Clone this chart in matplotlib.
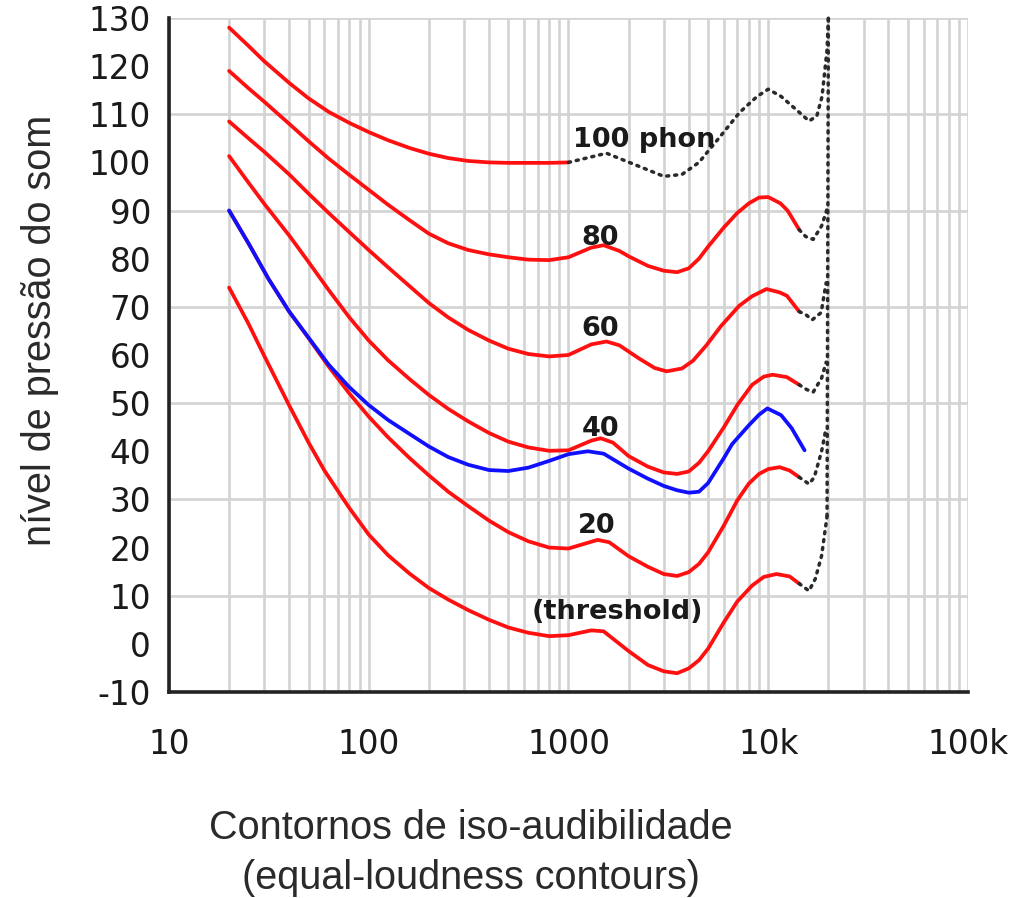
import matplotlib.pyplot as plt
from matplotlib.ticker import LogLocator, NullFormatter

plt.rcParams['axes.unicode_minus'] = False

# equal-loudness contours, red solid part (frequency Hz, level dB)
f_100 = [20, 25, 30, 40, 50, 63, 80, 100, 125, 160, 200, 250, 315, 400, 500, 630, 800, 1000]
l_100 = [128, 124.2, 121, 116.5, 113.3, 110.5, 108.2, 106.3, 104.6, 103, 101.8, 100.9, 100.3, 100, 99.9, 99.9, 99.9, 100]

f_80 = [20, 25, 30, 40, 50, 63, 80, 100, 125, 160, 200, 250, 315, 400, 500, 630, 800, 1000,
        1300, 1500, 1800, 2000, 2500, 3000, 3500, 4000, 4500, 5000, 6000, 7000, 8000, 9000, 10000, 11500, 12500, 14300]
l_80 = [119, 115.4, 112.6, 108, 104.4, 100.8, 97.4, 94.3, 91.2, 88, 85.2, 83.2, 81.8, 80.9, 80.3, 79.8, 79.7, 80.3,
        82.3, 82.8, 81.6, 80.5, 78.5, 77.5, 77.2, 78, 80, 82.5, 86.5, 89.5, 91.5, 92.7, 92.8, 91.5, 90, 86]

f_60 = [20, 25, 30, 40, 50, 63, 80, 100, 125, 160, 200, 250, 315, 400, 500, 630, 800, 1000,
        1300, 1550, 1800, 2250, 2700, 3100, 3700, 4200, 4900, 5800, 7150, 8300, 9800, 11400, 12400, 14300]
l_60 = [108.5, 105, 102.2, 97.5, 93.5, 89.5, 85.5, 81.8, 78.2, 74.3, 70.8, 67.8, 65.2, 63, 61.3, 60.2, 59.7, 60,
        62.2, 62.8, 62, 59.3, 57.3, 56.6, 57.2, 58.8, 62, 66, 70.2, 72.2, 73.7, 73, 72.3, 69]

f_40 = [20, 25, 30, 40, 50, 63, 80, 100, 125, 160, 200, 250, 315, 400, 500, 630, 800, 1000,
        1300, 1450, 1670, 2000, 2500, 3000, 3500, 4000, 4500, 5000, 6000, 7000, 8300, 9500, 10500, 12400, 14300]
l_40 = [101.3, 95.8, 91.4, 84.8, 79.3, 73.5, 67.8, 63, 58.9, 55, 51.7, 48.8, 46.2, 43.8, 42, 40.8, 40.1, 40.2,
        42.2, 42.7, 41.8, 39, 36.8, 35.6, 35.3, 35.8, 37.6, 40, 45, 49.6, 53.8, 55.5, 55.9, 55.4, 53.8]

f_20 = [20, 25, 31.5, 40, 50, 63, 80, 100, 125, 160, 200, 250, 315, 400, 500, 630, 800, 1000,
        1400, 1600, 2000, 2500, 3000, 3500, 4000, 4500, 5000, 6000, 7000, 8000, 9000, 10000, 11400, 12800, 14300]
l_20 = [90, 83.2, 75.8, 69, 63.5, 57.6, 52, 47.2, 42.9, 38.6, 35, 31.6, 28.6, 25.6, 23.2, 21.3, 20, 19.8,
        21.6, 21.1, 18.2, 16, 14.5, 14.1, 14.9, 16.6, 19, 24.6, 29.8, 33.3, 35.3, 36.3, 36.7, 36, 34.6]

f_th = [20, 25, 30, 40, 50, 60, 70, 80, 90, 100, 125, 160, 200, 250, 315, 400, 500, 630, 800, 1000,
        1300, 1500, 2000, 2500, 3000, 3500, 4000, 4500, 5000, 6000, 7000, 8300, 9500, 11000, 12800, 14300]
l_th = [74, 66.5, 59.8, 49.5, 41.8, 36, 31.8, 28.2, 25.3, 22.7, 18.4, 14.6, 11.6, 9.2, 7, 5, 3.4, 2.3, 1.6, 1.8,
        2.8, 2.6, -1.5, -4.4, -5.7, -6.1, -5.1, -3.4, -1, 4.5, 8.8, 12.1, 13.9, 14.5, 14, 12.5]

# original ISO 40 phon (blue)
f_blue = [20, 25, 31.5, 40, 50, 63, 80, 100, 125, 160, 200, 250, 315, 400, 500, 630, 800, 1000, 1250, 1500,
          2000, 2500, 3000, 3500, 4000, 4500, 5000, 6000, 6600, 8000, 9000, 9900, 11600, 13100, 15200]
l_blue = [90, 83.2, 75.8, 69, 63.6, 58, 53.3, 49.6, 46.5, 43.6, 41, 38.8, 37.2, 36.1, 35.9, 36.6, 38, 39.4, 40, 39.5,
          36.4, 34.3, 32.8, 31.9, 31.4, 31.6, 33.4, 38.6, 41.5, 45.4, 47.6, 48.9, 47.5, 44.8, 40.2]

# dotted (extrapolated) parts
f_100d = [1000, 1550, 2250, 3000, 3700, 4500, 5600, 7200, 8800, 10000, 11600, 14300, 16000, 17500, 18600, 19700, 20000]
l_100d = [100, 101.9, 99.2, 97.1, 97.5, 100, 104.8, 110.4, 113.7, 115.2, 113.7, 110.4, 108.6, 109.6, 113.7, 123.4, 130]
f_80d = [14300, 15400, 16800, 18500, 19700]
l_80d = [86, 84.6, 84, 86.8, 90.3]
f_60d = [14300, 15400, 16600, 18400, 19500]
l_60d = [69, 68.4, 67.3, 68.8, 75]
f_40d = [14300, 15600, 16800, 18500, 19500]
l_40d = [53.8, 52.8, 52.3, 55.2, 58.5]
f_20d = [14300, 16000, 17000, 18500, 19500]
l_20d = [34.6, 33.2, 34.6, 40, 44.9]
f_thd = [14300, 16000, 17200, 18500, 19700]
l_thd = [12.5, 11, 13.5, 18.3, 26.5]
f_vert = [19700, 20000]
l_vert = [26.5, 130]

fig = plt.figure(figsize=(10.1, 8.98), dpi=100)
ax = fig.add_axes([0.1673, 0.2294, 0.7911, 0.7506])
ax.set_xscale('log')
ax.set_xlim(10, 100000)
ax.set_ylim(-10, 130)

grid_c = '#d3d3d3'
ax.xaxis.set_minor_locator(LogLocator(base=10, subs=range(2, 10), numticks=100))
ax.xaxis.set_minor_formatter(NullFormatter())
ax.xaxis.grid(True, which='both', color=grid_c, lw=1.9)
for v in range(10, 131, 20):
    ax.axhline(v, color=grid_c, lw=1.9, zorder=0.5)
ax.set_axisbelow(True)

red = '#ff1010'
for fx, ly in [(f_100, l_100), (f_80, l_80), (f_60, l_60), (f_40, l_40), (f_20, l_20), (f_th, l_th)]:
    ax.plot(fx, ly, color=red, lw=2.7, solid_capstyle='round', solid_joinstyle='round', zorder=3)
ax.plot(f_blue, l_blue, color='#1010ff', lw=2.7, solid_capstyle='round', solid_joinstyle='round', zorder=4)

dot = dict(color='#2a2a2a', lw=2.5, linestyle=(0, (0.6, 1.7)), dash_capstyle='round', zorder=3)
for fx, ly in [(f_100d, l_100d), (f_80d, l_80d), (f_60d, l_60d), (f_40d, l_40d),
               (f_20d, l_20d), (f_thd, l_thd), (f_vert, l_vert)]:
    ax.plot(fx, ly, clip_on=False, **dot)

lab = dict(fontsize=19.5, fontweight='bold', color='#1a1a1a', ha='center', va='center', zorder=5)
ax.text(2400, 104.6, '100 phon', **lab)
ax.text(1445, 84.3, '80', **lab)
ax.text(1445, 65.3, '60', **lab)
ax.text(1445, 44.6, '40', **lab)
ax.text(1390, 24.5, '20', **lab)
ax.text(1760, 6.7, '(threshold)', **lab)

ax.set_xticks([10, 100, 1000, 10000, 100000])
ax.set_xticklabels(['10', '100', '1000', '10k', '100k'])
ax.set_yticks(range(-10, 131, 10))
ax.tick_params(axis='both', which='both', length=0, labelsize=23.5, labelcolor='#1a1a1a')
ax.tick_params(axis='x', pad=26)
ax.tick_params(axis='y', pad=13)

for s in ['top', 'right']:
    ax.spines[s].set_visible(False)
for s in ['left', 'bottom']:
    ax.spines[s].set_linewidth(2.6)
    ax.spines[s].set_color('#222222')

txt = dict(family='Liberation Sans', fontsize=28.5, color='#2a2a2a', ha='center', va='center')
fig.text(40 / 1010, 1 - 330 / 898, 'nível de pressão do som', rotation=90, **txt)
fig.text(471 / 1010, 1 - 828 / 898, 'Contornos de iso-audibilidade', **txt)
fig.text(471 / 1010, 1 - 878 / 898, '(equal-loudness contours)', **txt)

fig.savefig('out.png', dpi=100)
